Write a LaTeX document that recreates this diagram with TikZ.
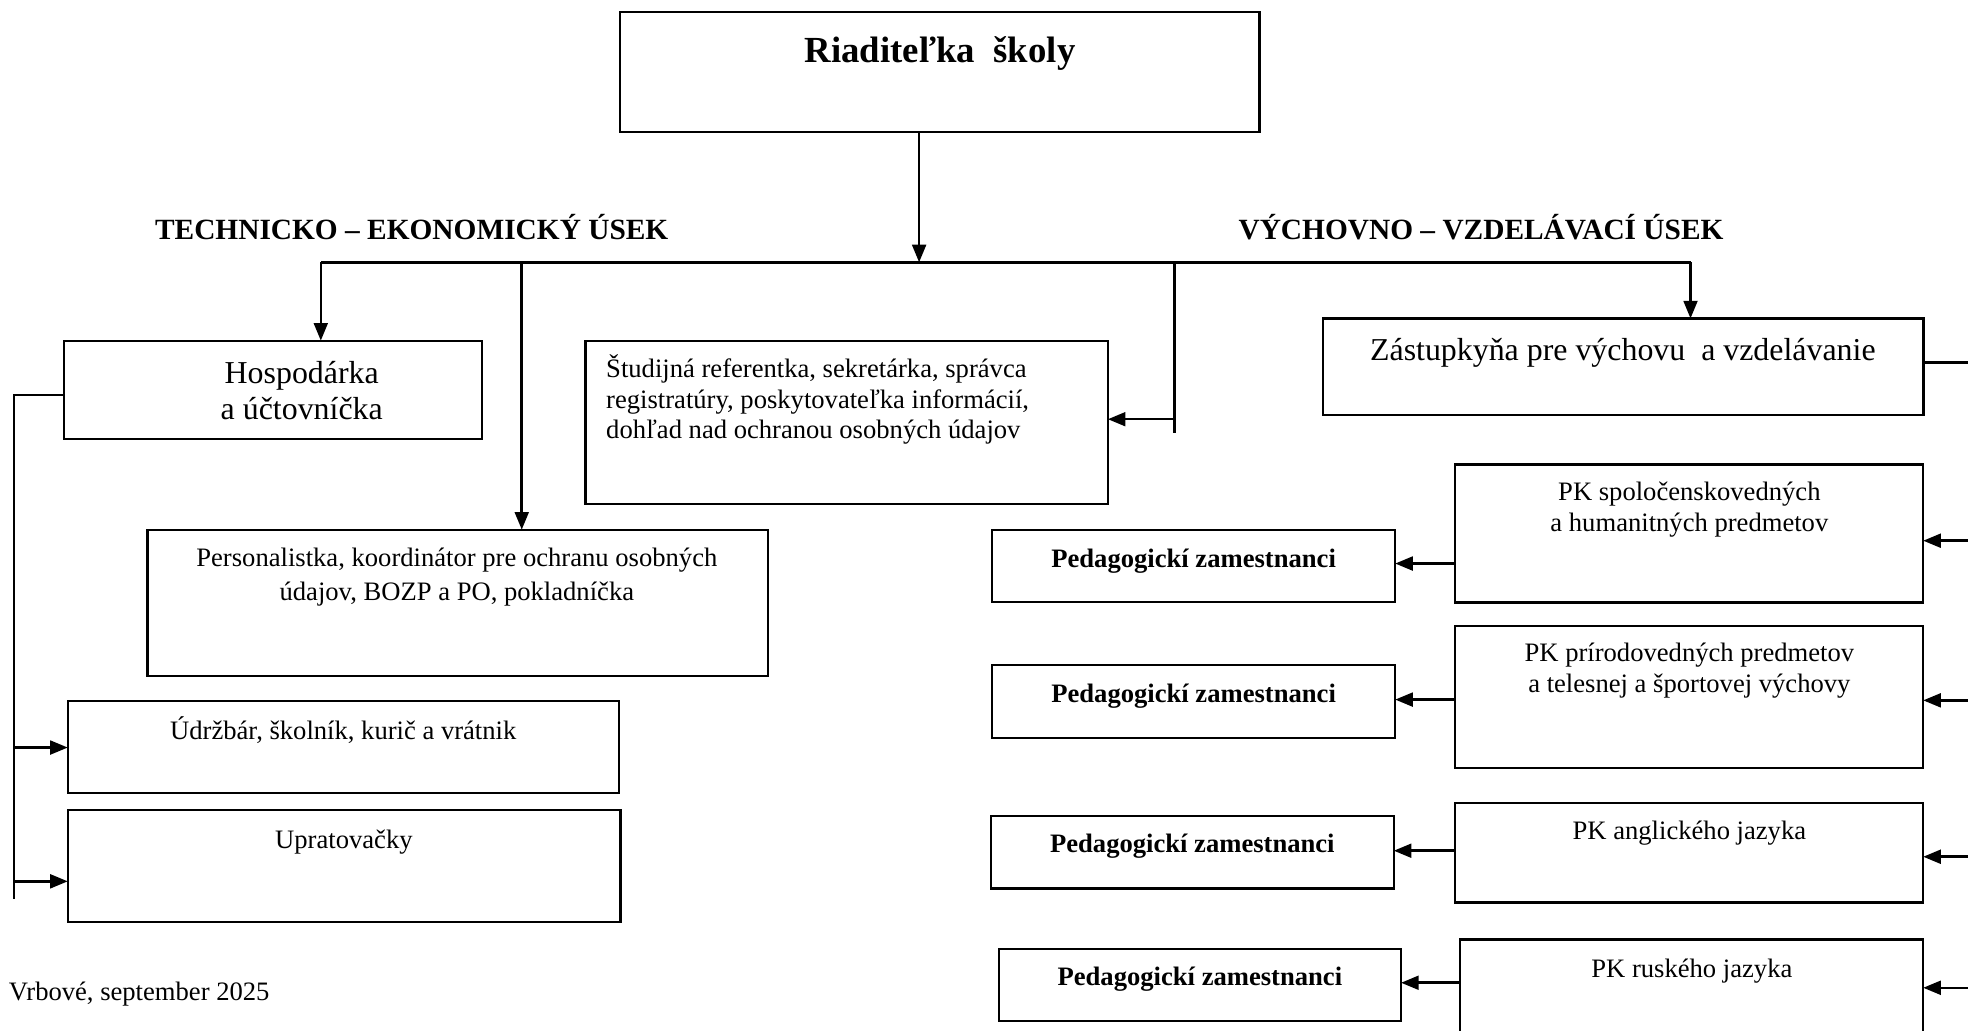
\documentclass[tikz,border=0pt]{standalone}
\usepackage{fontspec}
\setmainfont{Liberation Serif}
\usetikzlibrary{arrows.meta}
\newcommand{\tstr}{\rule{0pt}{0.95em}}
\newcommand{\ftitle}{\fontsize{29.3}{32}\selectfont\bfseries}
\newcommand{\fhead}{\fontsize{23.4}{26}\selectfont\bfseries}
\newcommand{\flarge}{\fontsize{25.4}{29}\selectfont}
\newcommand{\fsmall}{\fontsize{21.2}{27}\selectfont}
\newcommand{\fpk}{\fontsize{21.2}{24.5}\selectfont}
\newcommand{\fstud}{\fontsize{21.2}{24}\selectfont}
\newcommand{\fped}{\fontsize{21.2}{24}\selectfont\bfseries}
\tikzset{
  box/.style={draw, line width=1.8pt, inner sep=0pt, outer sep=0pt, anchor=north west},
  arr/.style={line width=2pt, -{Triangle[length=14pt,width=11pt]}},
  conn/.style={line width=2pt},
  txt/.style={inner sep=0pt, outer sep=0pt, align=center, anchor=north},
  btxt/.style={inner sep=0pt, outer sep=0pt, anchor=base},
}
\begin{document}
\begin{tikzpicture}[x=1pt,y=-1pt]
\useasboundingbox (0,0) rectangle (1568,821);
\clip (0,0) rectangle (1568,821);
\fill[white] (0,0) rectangle (1568,821);

% boxes
\node[box, minimum width=509.5pt, minimum height=95.8pt] (dir) at (494,9.6) {};
\node[box, minimum width=333.2pt, minimum height=78.1pt] (hosp) at (50.8,271.4) {};
\node[box, minimum width=416.3pt, minimum height=129.9pt] (stud) at (466.4,271.7) {};
\node[box, minimum width=478.5pt, minimum height=77pt] (zast) at (1054,253.7) {};
\node[box, minimum width=494.3pt, minimum height=116.5pt] (pers) at (117.5,422) {};
\node[box, minimum width=439.4pt, minimum height=73.1pt] (udrz) at (54,558.6) {};
\node[box, minimum width=440.3pt, minimum height=89pt] (uprat) at (54,645.5) {};
\node[box, minimum width=372.9pt, minimum height=110pt] (pk1) at (1159.4,370) {};
\node[box, minimum width=372.9pt, minimum height=113pt] (pk2) at (1159.4,499) {};
\node[box, minimum width=372.9pt, minimum height=79.5pt] (pk3) at (1159.4,639.5) {};
\node[box, minimum width=368.8pt, minimum height=100pt] (pk4) at (1163.5,748.6) {};
\node[box, minimum width=321.1pt, minimum height=57.5pt] (ped1) at (790.5,422) {};
\node[box, minimum width=321.1pt, minimum height=57.8pt] (ped2) at (790.5,530) {};
\node[box, minimum width=321pt, minimum height=57.7pt] (ped3) at (789.5,650.3) {};
\node[box, minimum width=320.6pt, minimum height=57.3pt] (ped4) at (795.7,755.9) {};

% texts
\node[btxt, font=\ftitle] (tdir) at (749,50) {Riaditeľka~ školy};
\node[btxt, font=\fhead] (th1) at (328,190.5) {TECHNICKO – EKONOMICKÝ ÚSEK};
\node[btxt, font=\fhead] (th2) at (1180,190.5) {VÝCHOVNO – VZDELÁVACÍ ÚSEK};
\node[txt, font=\flarge] (thosp) at (240.4,281.5) {\tstr Hospodárka\\a účtovníčka};
\node[txt, font=\fstud, align=left, anchor=north west] (tstud) at (483,281) {\tstr Študijná referentka, sekretárka, správca\\registratúry, poskytovateľka informácií,\\dohľad nad ochranou osobných údajov};
\node[btxt, font=\flarge] (tzast) at (1293,287.5) {Zástupkyňa pre výchovu~ a vzdelávanie};
\node[txt, font=\fsmall] (tpers) at (364,431) {\tstr Personalistka, koordinátor pre ochranu osobných\\údajov, BOZP a PO, pokladníčka};
\node[btxt, font=\fsmall] (tudrz) at (273.5,589) {Údržbár, školník, kurič a vrátnik};
\node[btxt, font=\fsmall] (tuprat) at (274,675.7) {Upratovačky};
\node[txt, font=\fpk] (tpk1) at (1346,379) {\tstr PK spoločenskovedných\\a humanitných predmetov};
\node[txt, font=\fpk] (tpk2) at (1346,507) {\tstr PK prírodovedných predmetov\\a telesnej a športovej výchovy};
\node[btxt, font=\fpk] (tpk3) at (1346,669) {PK anglického jazyka};
\node[btxt, font=\fpk] (tpk4) at (1348,779) {PK ruského jazyka};
\node[btxt, font=\fped] (tped1) at (951,452.5) {Pedagogickí zamestnanci};
\node[btxt, font=\fped] (tped2) at (951,560) {Pedagogickí zamestnanci};
\node[btxt, font=\fped] (tped3) at (950,679.6) {Pedagogickí zamestnanci};
\node[btxt, font=\fped] (tped4) at (956,785.5) {Pedagogickí zamestnanci};
\node[btxt, font=\fontsize{21.2}{24}\selectfont, anchor=base west] (tvrb) at (7,797) {Vrbové, september 2025};

% connectors: top
\coordinate (busM) at (732.3,209);
\coordinate (busL) at (255.6,209);
\coordinate (busR) at (1346.9,209);
\coordinate (busP) at (415.7,209);
\coordinate (busS) at (935.9,209);
\coordinate (sEnd) at (935.9,345.3);
\coordinate (sArr) at (935.9,334);
\draw[arr] (dir.south -| busM) -- (busM);
\draw[conn] (busL) -- (busR);
\draw[arr] (busL) -- (busL |- hosp.north);
\draw[arr] (busP) -- (busP |- pers.north);
\draw[conn] (busS) -- (sEnd);
\draw[arr] (sArr) -- (sArr -| stud.east);
\draw[arr] (busR) -- (busR |- zast.north);

% right side
\coordinate (zR) at (1575,289);
\draw[conn] (zR -| zast.east) -- (zR);
\coordinate (r1) at (1575,430.8);
\coordinate (r2) at (1575,558);
\coordinate (r3) at (1575,682.6);
\coordinate (r4) at (1575,787);
\draw[arr] (r1) -- (r1 -| pk1.east);
\draw[arr] (r2) -- (r2 -| pk2.east);
\draw[arr] (r3) -- (r3 -| pk3.east);
\draw[arr] (r4) -- (r4 -| pk4.east);

% PK -> pedagogicki
\coordinate (a1) at (0,449);
\coordinate (a2) at (0,557.4);
\coordinate (a3) at (0,677.8);
\coordinate (a4) at (0,783);
\draw[arr] (a1 -| pk1.west) -- (a1 -| ped1.east);
\draw[arr] (a2 -| pk2.west) -- (a2 -| ped2.east);
\draw[arr] (a3 -| pk3.west) -- (a3 -| ped3.east);
\draw[arr] (a4 -| pk4.west) -- (a4 -| ped4.east);

% left spine
\coordinate (hL) at (11.2,314.7);
\coordinate (hB) at (11.2,716);
\coordinate (u1) at (11.2,595.6);
\coordinate (u2) at (11.2,702.2);
\draw[conn] (hL -| hosp.west) -- (hL) -- (hB);
\draw[arr] (u1) -- (u1 -| udrz.west);
\draw[arr] (u2) -- (u2 -| uprat.west);
\end{tikzpicture}
\end{document}
